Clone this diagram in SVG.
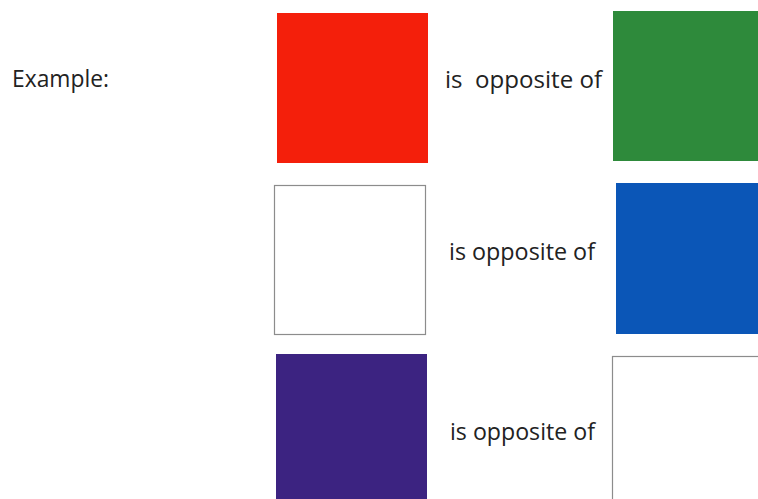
<svg xmlns="http://www.w3.org/2000/svg" width="758" height="499" viewBox="0 0 758 499">
<style>
.t{font-family:"Open Sans","Noto Sans","DejaVu Sans",sans-serif;font-size:23px;fill:#222;white-space:pre}
.o{fill:#fff;stroke:#8c8c8c;stroke-width:1.2}
</style>
<rect width="758" height="499" fill="#fff"/>
<g id="label-example"><text class="t" x="12" y="87" textLength="97" lengthAdjust="spacingAndGlyphs">Example:</text></g>
<g id="red"><rect x="277" y="13" width="151" height="150" fill="#f41f0b"/></g>
<g id="text1"><text class="t" x="445" y="88" textLength="157" lengthAdjust="spacingAndGlyphs">is  opposite of</text></g>
<g id="green"><rect x="613" y="11" width="145" height="150" fill="#2e8a3b"/></g>
<g id="white1"><rect class="o" x="274.5" y="185.5" width="151" height="149"/></g>
<g id="text2"><text class="t" x="449" y="260" textLength="146" lengthAdjust="spacingAndGlyphs">is opposite of</text></g>
<g id="blue"><rect x="616" y="183" width="142" height="151" fill="#0b56b7"/></g>
<g id="purple"><rect x="276" y="354" width="151" height="145" fill="#3c2381"/></g>
<g id="text3"><text class="t" x="450" y="440" textLength="145" lengthAdjust="spacingAndGlyphs">is opposite of</text></g>
<g id="white2"><rect class="o" x="612.5" y="356.5" width="150" height="150"/></g>
<g id="connectors"></g>
</svg>
